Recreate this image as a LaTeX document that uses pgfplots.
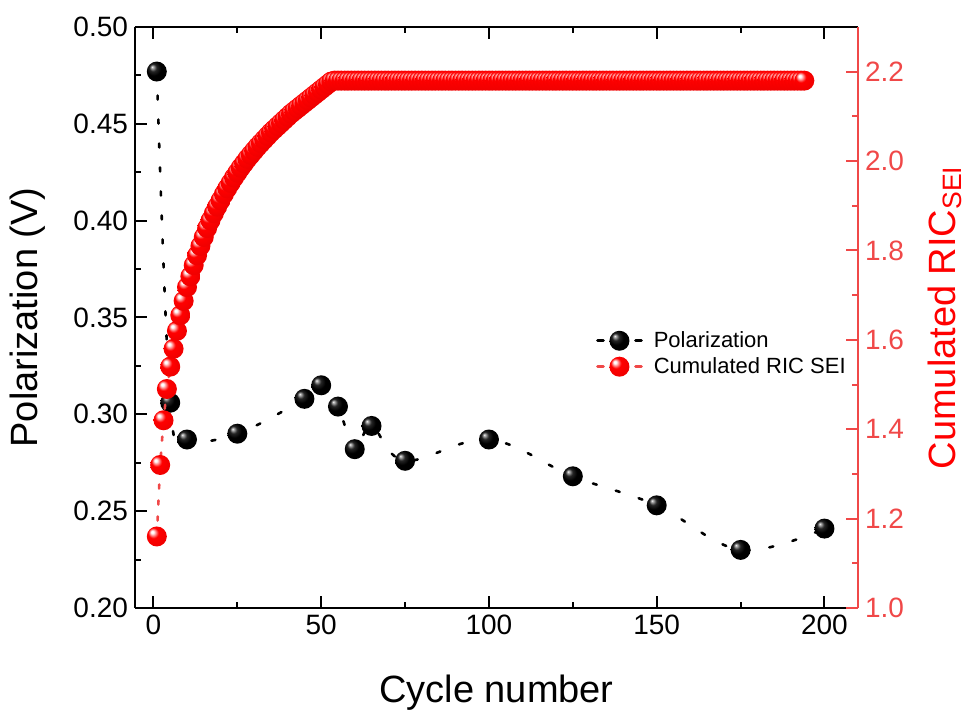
\documentclass[border=0pt]{standalone}
\usepackage{fontspec}
\setmainfont{Liberation Sans}
\usepackage{pgfplots}
\pgfplotsset{compat=1.18}
\definecolor{ricred}{RGB}{240,72,72}
\pgfdeclareradialshading{redballsh}{\pgfpoint{-12bp}{12bp}}{color(0bp)=(white); color(3bp)=(white); color(13bp)=(red); color(35bp)=(red!92!black); color(50bp)=(red!75!black)}
\pgfdeclareradialshading{blackballsh}{\pgfpoint{-12bp}{12bp}}{color(0bp)=(white); color(2bp)=(black!25); color(9bp)=(black!85); color(18bp)=(black); color(50bp)=(black)}
\pgfdeclareplotmark{redball}{\pgfpathcircle{\pgfpointorigin}{\pgfplotmarksize}\pgfshadepath{redballsh}{0}\pgfusepath{discard}}
\pgfdeclareplotmark{blackball}{\pgfpathcircle{\pgfpointorigin}{\pgfplotmarksize}\pgfshadepath{blackballsh}{0}\pgfusepath{discard}}
\begin{document}
\begin{tikzpicture}
\useasboundingbox (-67.5pt,-51pt) rectangle (417pt,304pt);
\begin{axis}[
  scale only axis, width=361.5pt, height=290.5pt,
  xmin=-5.5, xmax=210, ymin=0.20, ymax=0.50,
  axis y line*=left,
  axis line style={line width=1pt, black},
  tick align=inside,
  xtick={0,50,100,150,200}, minor x tick num=1,
  xtick pos=both,
  ytick={0.20,0.25,0.30,0.35,0.40,0.45,0.50}, minor y tick num=1,
  major tick length=6pt, minor tick length=3pt,
  tick style={line width=1pt, black},
  /pgf/number format/assume math mode=true,
  tick label style={font=\fontsize{14}{16}\selectfont},
  yticklabel style={/pgf/number format/.cd, fixed, fixed zerofill, precision=2},
  xticklabel style={/pgf/number format/.cd, fixed},
  xlabel={Cycle number},
  xlabel style={font=\fontsize{19}{22}\selectfont, at={(axis description cs:0.5,-0.145)}, anchor=center},
  ylabel={Polarization (V)},
  ylabel style={font=\fontsize{19}{22}\selectfont, at={(axis description cs:-0.148,0.5)}, anchor=center},
]
\addplot[black, line width=1.3pt, dash pattern=on 2pt off 10pt, line cap=round, smooth, tension=0.6,
  mark=blackball, mark size=5pt, mark options={solid}]
coordinates {(1,0.477) (5,0.306) (10,0.287) (25,0.290) (45,0.308) (50,0.315) (55,0.304) (60,0.282) (65,0.294) (75,0.276) (100,0.287) (125,0.268) (150,0.253) (175,0.230) (200,0.241)};
\end{axis}
\begin{axis}[
  scale only axis, width=361.5pt, height=290.5pt,
  xmin=-5.5, xmax=210, ymin=1.0, ymax=2.3,
  axis x line=none,
  axis y line*=right,
  y axis line style={line width=1pt, ricred},
  tick align=inside,
  ytick={1.0,1.2,1.4,1.6,1.8,2.0,2.2}, minor y tick num=1,
  major tick length=6pt, minor tick length=3pt,
  ytick style={line width=1pt, ricred},
  /pgf/number format/assume math mode=true,
  yticklabel style={font=\fontsize{14}{16}\selectfont, text=ricred, /pgf/number format/.cd, fixed, fixed zerofill, precision=1},
  ylabel={Cumulated RIC\textsubscript{SEI}},
  ylabel style={font=\fontsize{19}{22}\selectfont, text=red, at={(axis description cs:1.120,0.5)}, anchor=center, rotate=0},
  legend cell align=left,
  legend style={at={(rel axis cs:0.629,0.489)}, anchor=north west, draw=none, fill=none,
    font=\fontsize{11}{12}\selectfont, nodes={inner sep=1.5pt}, row sep=0.5pt,
    /tikz/every odd column/.append style={column sep=4pt}},
  legend image code/.code={
    \draw[#1, mark=none, dash pattern=on 3pt off 16pt] (0pt,0pt) -- (22pt,0pt);
    \path[#1] plot coordinates {(11pt,0pt)};
  },
]
\addlegendimage{black, line width=1.3pt, line cap=round, mark=blackball, mark size=5pt, mark options={solid}}
\addlegendentry{Polarization}
\addplot[ricred, line width=1.3pt, dash pattern=on 2pt off 6pt, line cap=round,
  mark=redball, mark size=5pt, mark options={solid}]
coordinates {
(1,1.160) (2,1.320) (3,1.420) (4,1.490) (5,1.540) (6,1.580) (7,1.620) (8,1.655) (9,1.687) (10,1.718)
(11,1.742) (12,1.767) (13,1.789) (14,1.810) (15,1.830) (16,1.850) (17,1.867) (18,1.883) (19,1.898) (20,1.912)
(21,1.926) (22,1.939) (23,1.951) (24,1.963) (25,1.974) (26,1.985) (27,1.995) (28,2.005) (29,2.014) (30,2.023)
(31,2.032) (32,2.040) (33,2.048) (34,2.056) (35,2.064) (36,2.071) (37,2.078) (38,2.085) (39,2.092) (40,2.099)
(41,2.106) (42,2.112) (43,2.118) (44,2.124) (45,2.130) (46,2.136) (47,2.142) (48,2.148) (49,2.154) (50,2.160)
(51,2.166) (52,2.172) (53,2.178) (54,2.180) (55,2.180) (56,2.180) (57,2.180) (58,2.180) (59,2.180) (60,2.180)
(61,2.180) (62,2.180) (63,2.180) (64,2.180) (65,2.180) (66,2.180) (67,2.180) (68,2.180) (69,2.180) (70,2.180)
(71,2.180) (72,2.180) (73,2.180) (74,2.180) (75,2.180) (76,2.180) (77,2.180) (78,2.180) (79,2.180) (80,2.180)
(81,2.180) (82,2.180) (83,2.180) (84,2.180) (85,2.180) (86,2.180) (87,2.180) (88,2.180) (89,2.180) (90,2.180)
(91,2.180) (92,2.180) (93,2.180) (94,2.180) (95,2.180) (96,2.180) (97,2.180) (98,2.180) (99,2.180) (100,2.180)
(101,2.180) (102,2.180) (103,2.180) (104,2.180) (105,2.180) (106,2.180) (107,2.180) (108,2.180) (109,2.180) (110,2.180)
(111,2.180) (112,2.180) (113,2.180) (114,2.180) (115,2.180) (116,2.180) (117,2.180) (118,2.180) (119,2.180) (120,2.180)
(121,2.180) (122,2.180) (123,2.180) (124,2.180) (125,2.180) (126,2.180) (127,2.180) (128,2.180) (129,2.180) (130,2.180)
(131,2.180) (132,2.180) (133,2.180) (134,2.180) (135,2.180) (136,2.180) (137,2.180) (138,2.180) (139,2.180) (140,2.180)
(141,2.180) (142,2.180) (143,2.180) (144,2.180) (145,2.180) (146,2.180) (147,2.180) (148,2.180) (149,2.180) (150,2.180)
(151,2.180) (152,2.180) (153,2.180) (154,2.180) (155,2.180) (156,2.180) (157,2.180) (158,2.180) (159,2.180) (160,2.180)
(161,2.180) (162,2.180) (163,2.180) (164,2.180) (165,2.180) (166,2.180) (167,2.180) (168,2.180) (169,2.180) (170,2.180)
(171,2.180) (172,2.180) (173,2.180) (174,2.180) (175,2.180) (176,2.180) (177,2.180) (178,2.180) (179,2.180) (180,2.180)
(181,2.180) (182,2.180) (183,2.180) (184,2.180) (185,2.180) (186,2.180) (187,2.180) (188,2.180) (189,2.180) (190,2.180)
(191,2.180) (192,2.180) (193,2.180) (194,2.180)
};
\addlegendentry{Cumulated RIC SEI}
\end{axis}
\end{tikzpicture}
\end{document}
